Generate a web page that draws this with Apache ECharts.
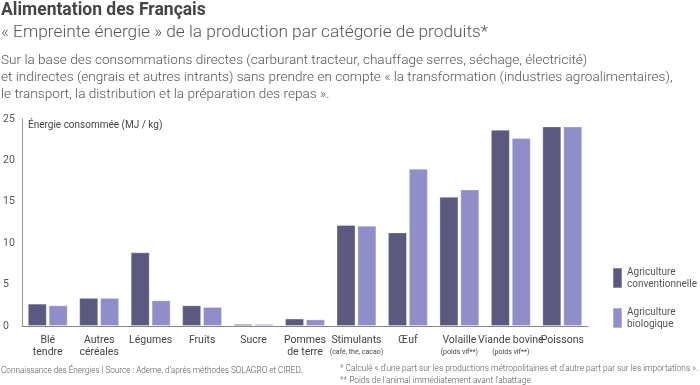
<!DOCTYPE html>
<html><head><meta charset="utf-8">
<script src="https://cdn.jsdelivr.net/npm/echarts@6/dist/echarts.min.js"></script>
<style>html,body{margin:0;padding:0;background:#fff}#c{width:700px;height:385px}</style>
</head><body><div id="c"></div>
<script>
const categories = ['Blé\ntendre','Autres\ncéréales','Légumes','Fruits','Sucre','Pommes\nde terre','Stimulants\n{s|(café, thé, cacao)}','Œuf','Volaille\n{s|(poids vif**)}','Viande bovine\n{s|(poids vif**)}','Poissons'];
const conventionnelle = [2.7, 3.4, 8.9, 2.5, 0.25, 0.9, 12.2, 11.3, 15.6, 23.7, 24.1];
const biologique = [2.5, 3.4, 3.1, 2.3, 0.25, 0.8, 12.1, 19.0, 16.5, 22.7, 24.1];
const yTicks = [0, 5, 10, 15, 20, 25];
const seriesNames = ['Agriculture\nconventionnelle', 'Agriculture\nbiologique'];

const F = 'Roboto, "Noto Sans", sans-serif';
const chart = echarts.init(document.getElementById('c'), null, {renderer:'canvas'});
chart.setOption({
  animation: false,
  textStyle: {fontFamily: F},
  title: [
    {text: 'Alimentation des Français', left: 1, top: 2, padding: 0, textStyle: {fontSize: 17.5, fontWeight: 'bold', color: '#444', fontFamily: F}},
    {text: '« Empreinte énergie » de la production par catégorie de produits*', left: 1, top: 24, padding: 0, textStyle: {fontSize: 17.3, fontWeight: 300, color: '#555', fontFamily: F}},
    {text: 'Sur la base des consommations directes (carburant tracteur, chauffage serres, séchage, électricité)\net indirectes (engrais et autres intrants) sans prendre en compte « la transformation (industries agroalimentaires),\nle transport, la distribution et la préparation des repas ».', left: 1, top: 52, padding: 0, textStyle: {fontSize: 13.6, fontWeight: 300, color: '#555', lineHeight: 17, fontFamily: F}},
    {text: 'Connaissance des Énergies | Source : Ademe, d\'après méthodes SOLAGRO et CIRED.', left: 1, top: 367, padding: 0, textStyle: {fontSize: 8.2, fontWeight: 300, color: '#555', fontFamily: F}},
    {text: '* Calculé « d\'une part sur les productions métropolitaines et d\'autre part par sur les importations ».\n** Poids de l\'animal immédiatement avant l\'abattage.', left: 340, top: 363, padding: 0, textStyle: {fontSize: 8.4, fontWeight: 300, color: '#555', lineHeight: 12, fontFamily: F}}
  ],
  legend: {
    orient: 'vertical', left: 612, top: 266, padding: 0, itemWidth: 9, itemHeight: 20, itemGap: 16,
    icon: 'rect',
    textStyle: {fontSize: 10, color: '#555', lineHeight: 12, fontFamily: F},
    data: seriesNames
  },
  grid: {left: 21, right: 112, top: 119, bottom: 59, containLabel: false},
  xAxis: {
    type: 'category', data: categories,
    axisLine: {lineStyle: {color: '#888', width: 1}},
    axisTick: {show: false},
    axisLabel: {interval: 0, fontSize: 10.5, color: '#444', lineHeight: 12, margin: 8, fontFamily: F,
      rich: {s: {fontSize: 7, color: '#444', lineHeight: 12, fontFamily: F}}}
  },
  yAxis: {
    type: 'value', min: 0, max: 25, interval: 5,
    name: 'Énergie consommée (MJ / kg)', nameLocation: 'end', nameGap: -6,
    nameTextStyle: {fontSize: 10, color: '#444', align: 'left', verticalAlign: 'middle', padding: [0,0,0,6], fontFamily: F},
    axisLine: {show: true, lineStyle: {color: '#999', width: 1}},
    axisTick: {show: false},
    splitLine: {show: false},
    axisLabel: {fontSize: 10.5, color: '#555', align: 'left', margin: 19, fontFamily: F,
      formatter: v => yTicks.includes(v) ? String(v) : ''}
  },
  series: [
    {name: seriesNames[0], type: 'bar', data: conventionnelle, barWidth: 19, barGap: '10%',
      itemStyle: {color: '#5b597f', borderColor: 'rgba(255,255,255,0.3)', borderWidth: 1}},
    {name: seriesNames[1], type: 'bar', data: biologique, barWidth: 19,
      itemStyle: {color: '#908ec9', borderColor: 'rgba(255,255,255,0.3)', borderWidth: 1}}
  ]
});
</script></body></html>
